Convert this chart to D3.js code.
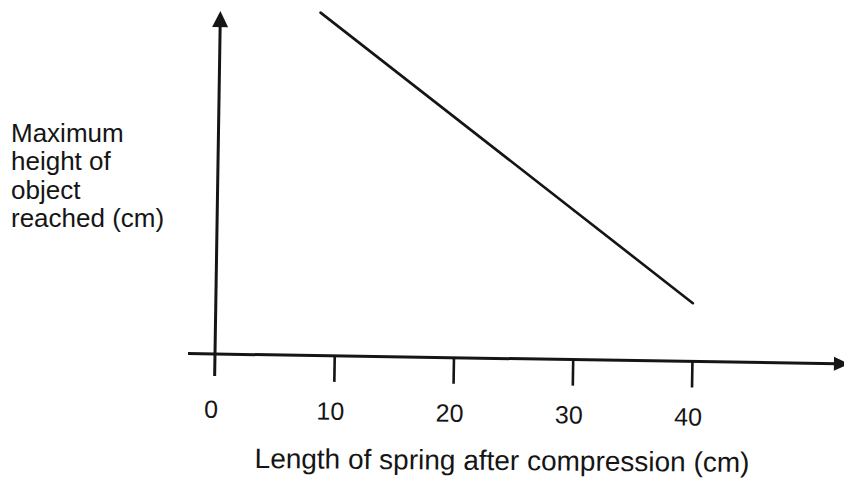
<!DOCTYPE html>
<html>
<head>
<meta charset="utf-8">
<script src="https://cdn.jsdelivr.net/npm/d3@7/dist/d3.min.js"></script>
<style>
  html, body { margin: 0; padding: 0; background: #fff; }
  svg { display: block; }
  text { font-family: "Liberation Sans", Arial, Helvetica, sans-serif; fill: #151515; }
</style>
</head>
<body>
<svg id="chart" width="844" height="484"></svg>
<script>
// Spring compression vs. maximum height reached (straight-line relation)
const springLength = [8.4, 40];      // cm, length of spring after compression
const maxHeight = [100, 17];         // relative height (no scale printed)
const xTicks = [0, 10, 20, 30, 40];
const xTickLabels = ["0", "10", "20", "30", "40"];
const yLabelLines = ["Maximum", "height of", "object", "reached (cm)"];
const xLabel = "Length of spring after compression (cm)";

const svg = d3.select("#chart");
const ink = "#151515";

// origin of the axes and a slight tilt of the whole drawing
const origin = { x: 215, y: 354 };
const tilt = 0.9;

const x = d3.scaleLinear().domain([0, 40]).range([0, 477]);
const y = d3.scaleLinear().domain([0, 100]).range([0, -343]);

const g = svg.append("g")
  .attr("transform", `translate(${origin.x},${origin.y}) rotate(${tilt})`);

// x axis line with arrow
const xEnd = 634;
g.append("line")
  .attr("x1", -27).attr("y1", 0)
  .attr("x2", xEnd - 12).attr("y2", 0)
  .attr("stroke", ink).attr("stroke-width", 3);
g.append("path")
  .attr("d", `M${xEnd},0 L${xEnd - 15},-7 L${xEnd - 15},7 Z`)
  .attr("fill", ink);

// y axis line with arrow (extends a little below the x axis)
const yTop = y(100);
g.append("line")
  .attr("x1", 0).attr("y1", 22)
  .attr("x2", 0).attr("y2", yTop + 12)
  .attr("stroke", ink).attr("stroke-width", 3);
g.append("path")
  .attr("d", `M0,${yTop} L-8,${yTop + 16} L8,${yTop + 16} Z`)
  .attr("fill", ink);

// ticks below the x axis (0 is covered by the y axis stub)
const xAxis = d3.axisBottom(x)
  .tickValues(xTicks.filter(d => d !== 0))
  .tickSize(26)
  .tickFormat("");
const axisG = g.append("g").call(xAxis);
axisG.select(".domain").remove();
axisG.selectAll(".tick line").attr("stroke", ink).attr("stroke-width", 2.6);

// tick labels
g.selectAll("text.tick-label")
  .data(xTicks)
  .join("text")
  .attr("class", "tick-label")
  .attr("x", d => x(d) - 3)
  .attr("y", 64)
  .attr("text-anchor", "middle")
  .attr("font-size", 25)
  .text((d, i) => xTickLabels[i]);

// the relation line
const pts = springLength.map((d, i) => [x(d), y(maxHeight[i])]);
g.append("path")
  .attr("d", d3.line()(pts))
  .attr("fill", "none")
  .attr("stroke", ink)
  .attr("stroke-width", 2.6)
  .attr("stroke-linecap", "round");

// axis titles
svg.append("text")
  .attr("x", 502).attr("y", 470)
  .attr("text-anchor", "middle")
  .attr("font-size", 28)
  .attr("transform", "rotate(0.45,502,470)")
  .text(xLabel);

svg.append("g").selectAll("text")
  .data(yLabelLines)
  .join("text")
  .attr("x", 11)
  .attr("y", (d, i) => 142 + i * 28.4)
  .attr("font-size", 26)
  .text(d => d);
</script>
</body>
</html>
